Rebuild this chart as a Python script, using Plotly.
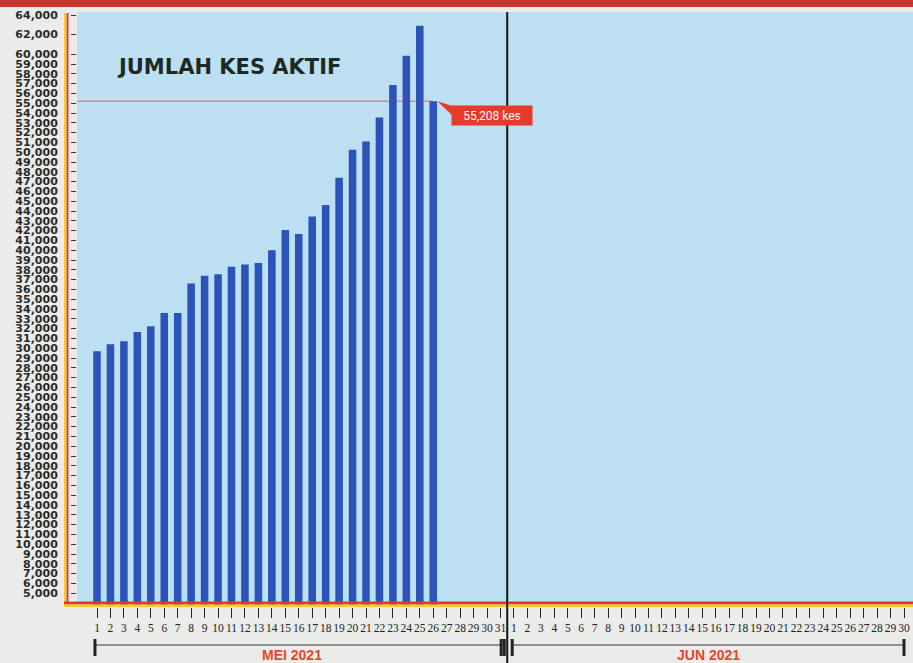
import plotly.graph_objects as go

# ---------------- data ----------------
may_days = list(range(1, 32))
jun_days = list(range(1, 31))
active_cases_may = [29700, 30400, 30700, 31650, 32250, 33600, 33600, 36600,
                    37400, 37550, 38300, 38550, 38700, 40000, 42050, 41650,
                    43450, 44600, 47400, 50250, 51100, 53550, 56850, 59850,
                    62900, 55208]
latest_label = "55,208 kes"
y_tick_values = list(range(5000, 60001, 1000)) + [62000, 64000]
month_labels = ["MEI 2021", "JUN 2021"]
title_text = "JUMLAH KES AKTIF"

categories = [f"{d} Mei" for d in may_days] + [f"{d} Jun" for d in jun_days]
tick_text = [str(d) for d in may_days + jun_days]
y_values = active_cases_may + [None] * (len(categories) - len(active_cases_may))
y_tick_text = [f"{v:,}" for v in y_tick_values]

# ---------------- layout geometry ----------------
W, H = 913, 663
ML, MR, MT, MB = 77, 0, 12, 56
PW, PH = W - ML - MR, H - MT - MB
PLOT_BOTTOM = H - MB


def px_x(x):
    return (x - ML) / PW


def px_y(y):
    return (PLOT_BOTTOM - y) / PH


n_may = len(may_days)
last_idx = len(active_cases_may) - 1
divider = n_may - 0.5
x_range = [-1.487, len(categories) - 1 + 0.669]
y_range = [3592, 64306]

BLUE_BG = "#bcdff1"
PAPER = "#ebecea"
RED = "#dd3b2c"
YELLOW = "#f3cf1c"
BAR = "#2b53b9"

fig = go.Figure()
fig.add_trace(go.Bar(
    x=categories, y=y_values, marker=dict(color=BAR, line=dict(width=0)),
    hoverinfo="skip", showlegend=False,
))

shapes = []
# top red banner
shapes.append(dict(type="rect", xref="paper", yref="paper",
                   x0=px_x(0), x1=1, y0=px_y(7), y1=px_y(0),
                   fillcolor="#c8372d", line=dict(width=0)))
# left yellow & red axis lines
shapes.append(dict(type="rect", xref="paper", yref="paper",
                   x0=px_x(64), x1=px_x(66), y0=px_y(607), y1=px_y(13),
                   fillcolor=YELLOW, line=dict(width=0)))
shapes.append(dict(type="rect", xref="paper", yref="paper",
                   x0=px_x(66.5), x1=px_x(68.5), y0=px_y(604.5), y1=px_y(13),
                   fillcolor=RED, line=dict(width=0)))
# bottom red & yellow axis lines
shapes.append(dict(type="rect", xref="paper", yref="paper",
                   x0=px_x(64), x1=1, y0=px_y(604.5), y1=px_y(601.5),
                   fillcolor=RED, line=dict(width=0)))
shapes.append(dict(type="rect", xref="paper", yref="paper",
                   x0=px_x(64), x1=1, y0=px_y(607), y1=px_y(604.5),
                   fillcolor=YELLOW, line=dict(width=0)))
# reference line at the latest value
shapes.append(dict(type="line", xref="x", yref="y", layer="below",
                   x0=x_range[0], x1=last_idx, y0=active_cases_may[-1],
                   y1=active_cases_may[-1], line=dict(color="#e0675a", width=1)))
# month divider
shapes.append(dict(type="line", xref="x", yref="paper",
                   x0=divider, x1=divider, y0=px_y(663), y1=1,
                   line=dict(color="#151515", width=2)))
# month brackets
yb = px_y(645)
cap0, cap1 = px_y(656), px_y(639)
for xa, xb in [(-0.15, divider - 0.33), (divider + 0.37, len(categories) - 1)]:
    shapes.append(dict(type="line", xref="x", yref="paper", x0=xa, x1=xb,
                       y0=yb, y1=yb, line=dict(color="#333", width=1.2)))
for xc in [-0.15, divider - 0.45, divider - 0.22, divider + 0.37,
           len(categories) - 1]:
    shapes.append(dict(type="line", xref="x", yref="paper", x0=xc, x1=xc,
                       y0=cap0, y1=cap1, line=dict(color="#222", width=3)))
# callout tail
shapes.append(dict(type="path", xref="x", yref="y",
                   xsizemode="pixel", ysizemode="pixel",
                   xanchor=last_idx, yanchor=active_cases_may[-1],
                   path="M 4 0 L 20 -5 L 20 -15 Z",
                   fillcolor="#e8392b", line=dict(width=0)))

annotations = [
    dict(text=f"<b>{title_text}</b>", xref="paper", yref="paper",
         x=px_x(115), y=px_y(67), xanchor="left", yanchor="middle",
         showarrow=False, font=dict(family="DejaVu Sans", size=21,
                                    color="#1d2a24")),
    dict(text=latest_label, xref="x", yref="y", x=last_idx,
         y=active_cases_may[-1], xshift=59, yshift=-14, showarrow=False,
         xanchor="center", yanchor="middle", bgcolor="#e8392b",
         width=76, height=15, borderpad=2,
         font=dict(family="Roboto", size=12, color="white")),
]
for label, xc in zip(month_labels, [(n_may - 1) / 2 - 0.5,
                                    n_may + (len(jun_days) - 1) / 2]):
    annotations.append(dict(text=f"<b>{label}</b>", xref="x", yref="paper",
                            x=xc, y=px_y(655), showarrow=False,
                            xanchor="center", yanchor="middle",
                            font=dict(family="Liberation Sans", size=14,
                                      color="#e8452c")))

fig.update_layout(
    width=W, height=H,
    margin=dict(l=ML, r=MR, t=MT, b=MB, pad=0, autoexpand=False),
    paper_bgcolor=PAPER, plot_bgcolor=BLUE_BG,
    bargap=0.44, showlegend=False,
    shapes=shapes, annotations=annotations,
    xaxis=dict(type="category", categoryorder="array", categoryarray=categories,
               range=x_range, tickmode="array", tickvals=categories,
               ticktext=tick_text, ticks="outside", ticklen=10, tickwidth=1,
               tickcolor="#222", showgrid=False, zeroline=False, showline=False,
               automargin=False,
               tickfont=dict(family="Liberation Serif", size=11.5, color="#222"),
               tickangle=0, fixedrange=True),
    yaxis=dict(range=y_range, tickmode="array", tickvals=y_tick_values,
               ticktext=y_tick_text, ticks="outside", ticklen=5, tickwidth=1.2,
               tickcolor="#333", showgrid=False, zeroline=False, showline=False,
               ticklabelstandoff=11, automargin=False,
               tickfont=dict(family="DejaVu Sans", size=11, color="#2a2a2a",
                             weight="bold"), fixedrange=True),
)

fig.write_html(
    "out.html",
    config={"displayModeBar": False},
    post_script="document.body.style.margin='0px';"
                "document.body.style.overflow='hidden';",
)
